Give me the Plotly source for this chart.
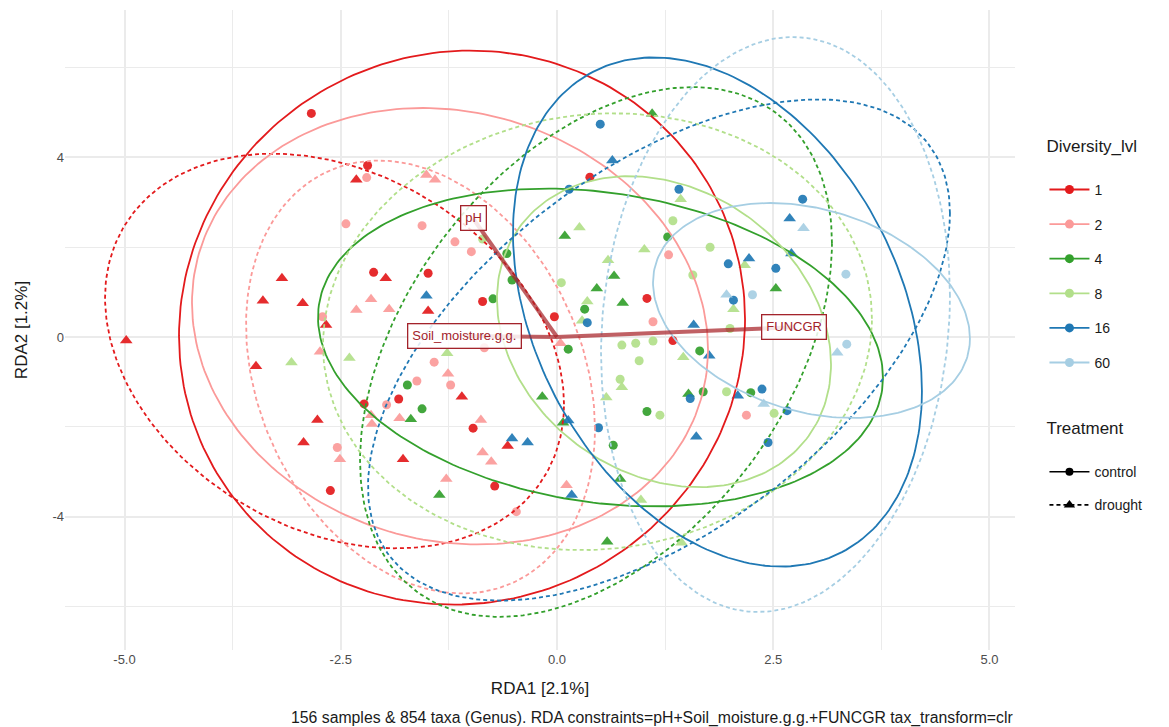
import numpy as np
import plotly.graph_objects as go

# ---- sample scores on the first two constrained axes ----
levels = ["1", "2", "4", "8", "16", "60"]
level_colors = ["#E31A1C", "#FB9A99", "#33A02C", "#B2DF8A", "#1F78B4", "#A6CEE3"]
treatments = ["control", "drought"]

rda1_d1_control = [-2.84, -2.19, 0.38, -2.12, -1.49, -0.86, -0.03, 1.04, 1.34, -2.23, -1.83, -0.97, -2.62, -0.72]
rda2_d1_control = [4.98, 3.82, 3.56, 1.44, 1.42, 0.79, 0.45, 0.86, -0.08, -1.49, -1.38, -2.03, -3.42, -3.32]
rda1_d1_drought = [-2.32, -4.98, -3.18, -3.40, -2.94, -3.48, -1.98, -1.49, -2.67, -1.10, -2.77, -2.93, -1.78, -0.57]
rda2_d1_drought = [3.50, -0.08, 1.31, 0.81, 0.75, -0.65, 1.31, 0.58, 0.27, -1.33, -1.85, -2.35, -2.72, -2.43]

rda1_d2_control = [-2.20, -2.44, -1.56, -1.18, -0.99, 1.29, 1.11, -2.71, -1.42, -1.62, -1.23, -1.97, -2.54, -0.47, 2.19, -0.84]
rda2_d2_control = [3.55, 2.52, 2.48, 2.12, 1.90, 1.83, 0.34, 0.45, -0.56, -0.98, -1.07, -1.51, -2.46, -3.89, -1.74, -0.24]
rda1_d2_drought = [-1.51, -1.41, -2.15, -2.32, -1.94, -2.74, -1.26, -2.15, -2.14, -1.82, -0.88, -0.86, -0.76, -2.51, -1.28, 0.04, 0.11]
rda2_d2_drought = [3.61, 3.50, 0.84, 0.60, 0.62, -0.33, -0.82, -1.74, -1.94, -1.81, -1.85, -2.57, -2.78, -2.72, -3.16, -0.14, -3.30]

rda1_d4_control = [-0.58, -0.52, -0.74, 0.32, 0.13, 1.28, 1.65, 1.69, 2.24, -1.73, -1.56, 0.65, 1.04]
rda2_d4_control = [1.86, 1.27, 0.85, 0.62, -0.27, 2.23, -0.31, -1.22, -1.24, -1.07, -1.60, -2.41, -1.66]
rda1_d4_drought = [1.10, 0.09, 0.66, 0.46, 0.76, 2.53, 1.52, -0.17, -1.69, -1.36, 0.07, 0.73, 0.58]
rda2_d4_drought = [4.97, 2.25, 1.36, 1.08, 0.76, 1.08, -1.27, -1.33, -1.83, -3.52, -1.91, -3.16, -4.56]

rda1_d8_control = [-0.86, 1.34, 1.77, 0.05, 1.57, 2.00, 0.75, 0.91, 1.11, 0.95, 0.73, 1.96, 1.19, 2.51]
rda2_d8_control = [2.18, 2.59, 2.00, 1.21, 1.38, 0.19, -0.18, -0.14, -0.09, -0.53, -0.94, -1.22, -1.74, -1.70]
rda1_d8_drought = [0.26, 1.01, 0.59, 1.43, 2.17, 2.04, 0.35, 0.29, 1.46, 0.75, 0.57, 0.97, 1.44, -2.40, -3.07, -1.27]
rda2_d8_drought = [2.44, 1.95, 1.71, 3.07, 1.60, 0.62, 0.79, 0.36, -0.45, -1.12, -1.35, -3.63, -4.58, -0.47, -0.57, -0.36]

rda1_d16_control = [0.50, 0.14, 1.41, 2.84, 1.98, 2.53, 2.04, 0.35, 1.54, 2.37, 2.66, 2.44, 0.48]
rda2_d16_control = [4.74, 3.29, 3.29, 3.07, 1.63, 1.53, 0.82, 0.32, -1.37, -1.16, -1.64, -2.35, -2.02]
rda1_d16_drought = [0.64, 2.22, 2.69, 2.71, 1.58, 1.76, 2.09, 1.61, -1.51, -0.52, -0.34, 0.13, 0.17]
rda2_d16_drought = [3.93, 1.75, 2.64, 1.86, 0.27, -0.42, -1.31, -2.22, 0.92, -2.26, -2.35, -1.86, -3.52]

rda1_d60_control = [2.26, 3.34, 3.35]
rda2_d60_control = [0.94, 1.40, -0.16]
rda1_d60_drought = [2.85, 1.96, 3.24, 2.39]
rda2_d60_drought = [2.42, 0.94, -0.35, -1.49]

scores = {
    ("1", "control"): (rda1_d1_control, rda2_d1_control),
    ("1", "drought"): (rda1_d1_drought, rda2_d1_drought),
    ("2", "control"): (rda1_d2_control, rda2_d2_control),
    ("2", "drought"): (rda1_d2_drought, rda2_d2_drought),
    ("4", "control"): (rda1_d4_control, rda2_d4_control),
    ("4", "drought"): (rda1_d4_drought, rda2_d4_drought),
    ("8", "control"): (rda1_d8_control, rda2_d8_control),
    ("8", "drought"): (rda1_d8_drought, rda2_d8_drought),
    ("16", "control"): (rda1_d16_control, rda2_d16_control),
    ("16", "drought"): (rda1_d16_drought, rda2_d16_drought),
    ("60", "control"): (rda1_d60_control, rda2_d60_control),
    ("60", "drought"): (rda1_d60_drought, rda2_d60_drought),
}

# ---- group ellipses: centre, spread along each axis, correlation ----
ell_level = ["1", "1", "2", "2", "4", "4", "8", "8", "16", "16", "60", "60"]
ell_treat = ["control", "drought"] * 6
ell_cx = [-1.098, -2.572, -1.237, -1.578, 0.503, 0.451, 1.237, 0.468, 1.855, 1.179, 2.942, 2.526]
ell_cy = [0.210, -0.312, 0.240, -0.891, -0.234, -0.334, 0.118, 0.118, 0.557, -0.290, 0.590, 0.278]
ell_sx = [3.272, 2.653, 2.983, 2.017, 3.266, 2.728, 1.931, 3.173, 2.364, 3.364, 1.832, 2.017]
ell_sy = [6.170, 4.394, 4.860, 4.820, 3.539, 5.900, 3.463, 4.864, 5.670, 5.581, 2.394, 6.403]
ell_rho = [0.03, -0.27, -0.107, -0.24, -0.19, 0.41, -0.21, 0.059, -0.311, 0.546, -0.26, 0.10]

# ---- constraint vectors ----
vec_names = ["pH", "Soil_moisture.g.g.", "FUNCGR"]
vec_rda1 = [-0.97, -1.075, 2.74]
vec_rda2 = [2.64, 0.02, 0.22]

x_ticks = [-5.0, -2.5, 0.0, 2.5, 5.0]
x_ticklabels = ["-5.0", "-2.5", "0.0", "2.5", "5.0"]
y_ticks = [-4, 0, 4]
y_ticklabels = ["-4", "0", "4"]

symbols = {"control": "circle", "drought": "triangle-up"}
sizes = {"control": 9, "drought": 11}
dashes = {"control": "solid", "drought": "4px,3px"}
color_of = dict(zip(levels, level_colors))

fig = go.Figure()

# points
for lv in levels:
    for tr in treatments:
        xs, ys = scores[(lv, tr)]
        fig.add_trace(go.Scatter(
            x=xs, y=ys, mode="markers", showlegend=False, hoverinfo="skip",
            marker=dict(color=color_of[lv], symbol=symbols[tr], size=sizes[tr],
                        opacity=0.92, line=dict(width=0)),
        ))

# ellipses
t = np.linspace(0, 2 * np.pi, 241)
for lv, tr, cx, cy, sx, sy, r in zip(ell_level, ell_treat, ell_cx, ell_cy, ell_sx, ell_sy, ell_rho):
    ex = cx + sx * np.cos(t)
    ey = cy + sy * (r * np.cos(t) + np.sqrt(1 - r * r) * np.sin(t))
    fig.add_trace(go.Scatter(
        x=ex, y=ey, mode="lines", showlegend=False, hoverinfo="skip",
        line=dict(color=color_of[lv], width=1.8, dash=dashes[tr]),
    ))

# constraint arrows
arrow_col = "rgba(168,34,40,0.72)"
for nm, vx, vy in zip(vec_names, vec_rda1, vec_rda2):
    fig.add_trace(go.Scatter(
        x=[0, vx], y=[0, vy], mode="lines", showlegend=False, hoverinfo="skip",
        line=dict(color=arrow_col, width=4),
    ))
    fig.add_annotation(
        x=vx, y=vy, xref="x", yref="y", text=nm, showarrow=False,
        font=dict(family="Liberation Sans, Arial, sans-serif", size=13, color="#A3232B"),
        bgcolor="rgba(255,255,255,0.85)", bordercolor="#A3232B", borderwidth=1.3, borderpad=4,
    )

# legend entries
for lv in levels:
    fig.add_trace(go.Scatter(
        x=[None], y=[None], mode="lines+markers", name=lv, legendgroup=lv,
        line=dict(color=color_of[lv], width=1.8),
        marker=dict(color=color_of[lv], symbol="circle", size=9),
        legend="legend",
    ))
for tr in treatments:
    fig.add_trace(go.Scatter(
        x=[None], y=[None], mode="lines+markers", name=tr, legendgroup=tr,
        line=dict(color="black", width=1.6, dash=dashes[tr]),
        marker=dict(color="black", symbol=symbols[tr], size=sizes[tr] - 1),
        legend="legend2",
    ))

font_family = "Liberation Sans, Arial, sans-serif"
grid_col = "#EBEBEB"

fig.update_layout(
    width=1169, height=727,
    margin=dict(l=65, r=154, t=10, b=77),
    paper_bgcolor="white", plot_bgcolor="white",
    font=dict(family=font_family, color="#1A1A1A"),
    xaxis=dict(
        range=[-5.688, 5.295], tickvals=x_ticks, ticktext=x_ticklabels,
        showgrid=True, gridcolor=grid_col, gridwidth=1.6, zeroline=False, showline=False,
        ticks="", tickfont=dict(size=13, color="#4D4D4D"),
        minor=dict(tickvals=[-3.75, -1.25, 1.25, 3.75], showgrid=True, gridcolor=grid_col, gridwidth=1.2),
        title=dict(text="RDA1 [2.1%]", font=dict(size=17, color="#1A1A1A"), standoff=16),
    ),
    yaxis=dict(
        range=[-6.971, 7.283], tickvals=y_ticks, ticktext=y_ticklabels,
        showgrid=True, gridcolor=grid_col, gridwidth=1.6, zeroline=False, showline=False,
        ticks="", tickfont=dict(size=13, color="#4D4D4D"),
        minor=dict(tickvals=[-6, -2, 2, 6], showgrid=True, gridcolor=grid_col, gridwidth=1.2),
        title=dict(text="RDA2 [1.2%]", font=dict(size=17, color="#1A1A1A"), standoff=20),
    ),
    legend=dict(
        x=1.031, y=0.813, xanchor="left", yanchor="top",
        title=dict(text="Diversity_lvl<br>", font=dict(size=17)),
        font=dict(size=14), tracegroupgap=13.4, itemwidth=40, bgcolor="rgba(0,0,0,0)",
    ),
    legend2=dict(
        x=1.031, y=0.372, xanchor="left", yanchor="top",
        title=dict(text="Treatment<br>", font=dict(size=17)),
        font=dict(size=14), tracegroupgap=12, itemwidth=40, bgcolor="rgba(0,0,0,0)",
    ),
)

fig.add_annotation(
    text="156 samples & 854 taxa (Genus). RDA constraints=pH+Soil_moisture.g.g.+FUNCGR tax_transform=clr",
    xref="paper", yref="paper", x=1.0, y=-0.089, xanchor="right", yanchor="top",
    showarrow=False, font=dict(size=15.8, color="#1A1A1A"),
)

fig.write_html("out.html")
